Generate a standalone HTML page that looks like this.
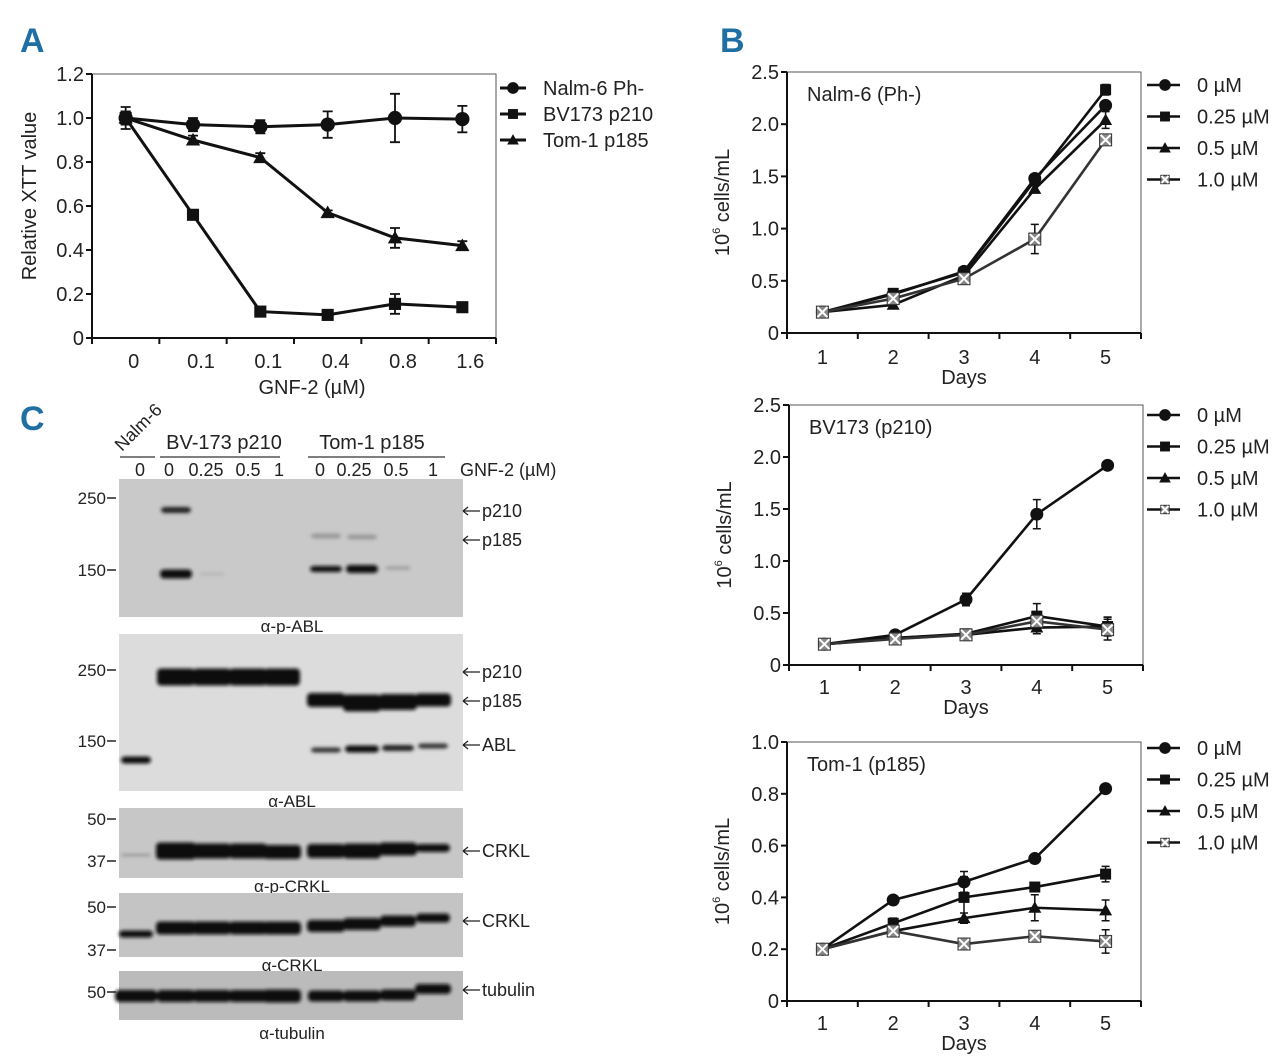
<!DOCTYPE html>
<html><head><meta charset="utf-8">
<style>
html,body{margin:0;padding:0;background:#fff;}
svg{display:block;font-family:"Liberation Sans Narrow","Liberation Sans",sans-serif;}
.t{fill:#222;}
</style></head>
<body>
<svg id="fig" width="1280" height="1064" viewBox="0 0 1280 1064" xmlns="http://www.w3.org/2000/svg">
<defs>
<filter id="blur" x="-20%" y="-50%" width="140%" height="200%"><feGaussianBlur stdDeviation="1.8"/></filter>
</defs>
<text x="20" y="52" font-size="34" font-weight="bold" fill="#1f6fa3">A</text>
<text x="720" y="52" font-size="34" font-weight="bold" fill="#1f6fa3">B</text>
<text x="20" y="430" font-size="34" font-weight="bold" fill="#1f6fa3">C</text>
<g id="root"></g>
</svg>
<script>
// ---------- Panel A data ----------
const aCats=['0','0.1','0.1','0.4','0.8','1.6'];
const aNalm=[1.0,0.97,0.96,0.97,1.0,0.995];
const aNalmErr=[0.05,0.03,0.03,0.06,0.11,0.06];
const aBV=[1.0,0.56,0.12,0.105,0.155,0.14];
const aBVErr=[0.03,0.02,0.02,0.02,0.045,0.02];
const aTom=[1.0,0.9,0.82,0.57,0.455,0.42];
const aTomErr=[0.03,0.02,0.02,0.01,0.045,0.02];
const aYTicks=[0,0.2,0.4,0.6,0.8,1.0,1.2];
const aYTickLabels=['0','0.2','0.4','0.6','0.8','1.0','1.2'];
const aLegend=['Nalm-6 Ph-','BV173 p210','Tom-1 p185'];

// ---------- Panel B data ----------
const bDays=['1','2','3','4','5'];
const bLegend=['0 \u00b5M','0.25 \u00b5M','0.5 \u00b5M','1.0 \u00b5M'];
// Nalm-6
const b1c0=[0.2,0.37,0.59,1.48,2.18];
const b1c25=[0.2,0.38,0.58,1.46,2.33];
const b1c5=[0.2,0.27,0.55,1.38,2.04];
const b1c10=[0.2,0.33,0.52,0.9,1.85];
const b1e0=[0,0.02,0.02,0.03,0.04];
const b1e25=[0,0.02,0.02,0.03,0.05];
const b1e5=[0,0.02,0.02,0.03,0.08];
const b1e10=[0,0.02,0.03,0.14,0.03];
const b1Ticks=[0,0.5,1.0,1.5,2.0,2.5];
const b1TickLabels=['0','0.5','1.0','1.5','2.0','2.5'];
// BV173
const b2c0=[0.2,0.29,0.63,1.45,1.92];
const b2c25=[0.2,0.26,0.3,0.47,0.37];
const b2c5=[0.2,0.26,0.29,0.36,0.37];
const b2c10=[0.2,0.25,0.29,0.42,0.34];
const b2e0=[0,0.02,0.06,0.14,0.04];
const b2e25=[0,0.02,0.02,0.12,0.09];
const b2e5=[0,0.02,0.02,0.06,0.09];
const b2e10=[0,0.02,0.02,0.08,0.1];
const b2Ticks=[0,0.5,1.0,1.5,2.0,2.5];
const b2TickLabels=['0','0.5','1.0','1.5','2.0','2.5'];
// Tom-1
const b3c0=[0.2,0.39,0.46,0.55,0.82];
const b3c25=[0.2,0.3,0.4,0.44,0.49];
const b3c5=[0.2,0.27,0.32,0.36,0.35];
const b3c10=[0.2,0.27,0.22,0.25,0.23];
const b3e0=[0,0.01,0.04,0.01,0.01];
const b3e25=[0,0.02,0.08,0.01,0.03];
const b3e5=[0,0.02,0.02,0.05,0.04];
const b3e10=[0,0.01,0.01,0.02,0.045];
const b3Ticks=[0,0.2,0.4,0.6,0.8,1.0];
const b3TickLabels=['0','0.2','0.4','0.6','0.8','1.0'];

const NS='http://www.w3.org/2000/svg';
const root=document.getElementById('root');
function mk(tag,attrs,parent){const e=document.createElementNS(NS,tag);for(const k in attrs)e.setAttribute(k,attrs[k]);(parent||root).appendChild(e);return e;}
function txt(x,y,s,size,anchor,parent){const e=mk('text',{x:x,y:y,'font-size':size,'text-anchor':anchor||'start',fill:'#222'},parent);e.textContent=s;return e;}

function marker(g,type,x,y,s){
  let e;
  if(type==='circle'){e=mk('circle',{cx:x,cy:y,r:6.5*s,fill:'#111'},g);}
  else if(type==='square'){e=mk('rect',{x:x-5.5*s,y:y-5.5*s,width:11*s,height:11*s,fill:'#111'},g);}
  else if(type==='tri'){e=mk('polygon',{points:`${x},${y-6.5*s} ${x+6.5*s},${y+5*s} ${x-6.5*s},${y+5*s}`,fill:'#111'},g);}
  else {e=mk('g',{},g);
    mk('rect',{x:x-6*s,y:y-6*s,width:12*s,height:12*s,fill:'#888',stroke:'#333','stroke-width':1},e);
    mk('path',{d:`M${x-5*s} ${y-5*s}L${x+5*s} ${y+5*s}M${x+5*s} ${y-5*s}L${x-5*s} ${y+5*s}`,stroke:'#fff','stroke-width':2},e);}
  return e;
}

// ---------- Panel A ----------
(function(){
  const L=92,R=496,T=74,B=338,ymax=1.2;
  const g=mk('g',{});
  
  
  const xA=i=>L+(i+0.5)*(R-L)/aCats.length;
  const yA=v=>B-v/ymax*(B-T);
  const frame=mk('rect',{x:L,y:T,width:R-L,height:B-T,fill:'none',stroke:'#555','stroke-width':1},g);
  
  
  mk('line',{x1:L,y1:T,x2:L,y2:B,stroke:'#111','stroke-width':2},g);
  mk('line',{x1:L,y1:B,x2:R,y2:B,stroke:'#111','stroke-width':2},g);
  aYTicks.forEach((v,i)=>{mk('line',{x1:L-6,y1:yA(v),x2:L,y2:yA(v),stroke:'#111','stroke-width':2},g);
    const t=txt(L-8,yA(v)+7,aYTickLabels[i],20,'end',g);
    
    });
  for(let i=0;i<=aCats.length;i++){const x=L+i*(R-L)/aCats.length;mk('line',{x1:x,y1:B,x2:x,y2:B+6,stroke:'#111','stroke-width':2},g);}
  aCats.forEach((c,i)=>{const t=txt(xA(i)+8,368,c,20,'middle',g);
    
    });
  const xt=txt(312,394,'GNF-2 (\u00b5M)',20,'middle',g);
  
  
  const yt=txt(0,0,'Relative XTT value',20,'middle',g);
  yt.setAttribute('transform','translate(36,196) rotate(-90)');
  
  
  const series=[[aNalm,aNalmErr,'circle'],[aBV,aBVErr,'square'],[aTom,aTomErr,'tri']];
  series.forEach((s,si)=>{
    const sg=mk('g',{},g);
    
    
    mk('polyline',{points:s[0].map((v,i)=>xA(i)+','+yA(v)).join(' '),fill:'none',stroke:'#111','stroke-width':3},sg);
    s[0].forEach((v,i)=>{const e=s[1][i];
      mk('path',{d:`M${xA(i)} ${yA(v+e)}V${yA(v-e)}M${xA(i)-5} ${yA(v+e)}h10M${xA(i)-5} ${yA(v-e)}h10`,stroke:'#111','stroke-width':1.8,fill:'none'},sg);
      const m=marker(sg,s[2],xA(i),yA(v),1.1);
      
      });
  });
  aLegend.forEach((l,i)=>{const y=88+i*26;const lg=mk('g',{},g);
    
    
    mk('line',{x1:500,y1:y,x2:526,y2:y,stroke:'#111','stroke-width':3},lg);
    marker(lg,['circle','square','tri'][i],513,y,0.9);
    txt(543,y+7,l,20,'start',lg);});
})();

// ---------- Panel B ----------
function growth(cfg){
  const {L,R,T,B,ymax,ticks,tickLabels,series,errs,title,name,xlY,legY}=cfg;
  const g=mk('g',{});
  
  
  const xA=i=>L+(i+0.5)*(R-L)/bDays.length;
  const yA=v=>B-v/ymax*(B-T);
  mk('rect',{x:L,y:T,width:R-L,height:B-T,fill:'none',stroke:'#555','stroke-width':1},g);
  mk('line',{x1:L,y1:T,x2:L,y2:B,stroke:'#111','stroke-width':2},g);
  mk('line',{x1:L,y1:B,x2:R,y2:B,stroke:'#111','stroke-width':2},g);
  ticks.forEach((v,i)=>{mk('line',{x1:L-6,y1:yA(v),x2:L,y2:yA(v),stroke:'#111','stroke-width':2},g);
    const t=txt(L-8,yA(v)+7,tickLabels[i],20,'end',g);
    
    });
  for(let i=0;i<=bDays.length;i++){const x=L+i*(R-L)/bDays.length;mk('line',{x1:x,y1:B,x2:x,y2:B+6,stroke:'#111','stroke-width':2},g);}
  bDays.forEach((d,i)=>{const t=txt(xA(i),xlY,d,20,'middle',g);
    
    });
  const dt=txt((L+R)/2,xlY+20,'Days',20,'middle',g);
  
  
  const yt=mk('text',{'font-size':20,'text-anchor':'middle',fill:'#222',transform:`translate(${L-58},${(T+B)/2}) rotate(-90)`},g);
  
  
  yt.innerHTML='10<tspan font-size="11" dy="-9">6</tspan><tspan dy="9"> cells/mL</tspan>';
  const an=txt(L+20,T+29,title,20,'start',g);
  
  
  const types=['circle','square','tri','x'];
  series.forEach((s,si)=>{
    const sg=mk('g',{},g);
    
    
    mk('polyline',{points:s.map((v,i)=>xA(i)+','+yA(v)).join(' '),fill:'none',stroke:si===3?'#333':'#111','stroke-width':2.6},sg);
    s.forEach((v,i)=>{const e=errs[si][i];
      if(e>0)mk('path',{d:`M${xA(i)} ${yA(v+e)}V${yA(v-e)}M${xA(i)-4} ${yA(v+e)}h8M${xA(i)-4} ${yA(v-e)}h8`,stroke:'#111','stroke-width':1.5,fill:'none'},sg);
      const m=marker(sg,types[si],xA(i),yA(v),1);
      
      });
  });
  bLegend.forEach((l,i)=>{const y=legY+i*31.5;const lg=mk('g',{},g);
    
    
    mk('line',{x1:1147,y1:y,x2:1180,y2:y,stroke:'#111','stroke-width':2.6},lg);
    marker(lg,types[i],1165,y,i<3?0.9:0.7);
    txt(1197,y+7,l,20,'start',lg);});
}
growth({L:787,R:1141,T:72,B:333,ymax:2.5,ticks:b1Ticks,tickLabels:b1TickLabels,series:[b1c0,b1c25,b1c5,b1c10],errs:[b1e0,b1e25,b1e5,b1e10],title:'Nalm-6 (Ph-)',name:'nalm6-growth-chart',xlY:364,legY:85});
growth({L:789,R:1143,T:405,B:665,ymax:2.5,ticks:b2Ticks,tickLabels:b2TickLabels,series:[b2c0,b2c25,b2c5,b2c10],errs:[b2e0,b2e25,b2e5,b2e10],title:'BV173 (p210)',name:'bv173-growth-chart',xlY:694,legY:415});
growth({L:787,R:1141,T:742,B:1001,ymax:1.0,ticks:b3Ticks,tickLabels:b3TickLabels,series:[b3c0,b3c25,b3c5,b3c10],errs:[b3e0,b3e25,b3e5,b3e10],title:'Tom-1 (p185)',name:'tom1-growth-chart',xlY:1030,legY:748});

// ---------- Panel C (western blots) ----------
(function(){
  const g=mk('g',{});
  
  
  const lanes=[136,176,212,248,282,326,362,398,433];
  const laneLabels=['0','0','0.25','0.5','1','0','0.25','0.5','1'];
  const laneLabelX=[140,169,206,248,279,320,354,396,433];
  laneLabels.forEach((l,i)=>{const t=txt(laneLabelX[i],476,l,18,'middle',g);
    
    });
  const gl=txt(460,476,'GNF-2 (\u00b5M)',18,'start',g);
  
  
  const n=txt(0,0,'Nalm-6',18,'start',g);n.setAttribute('transform','translate(122,452) rotate(-45)');
  
  
  const h1=txt(224,449,'BV-173 p210',20,'middle',g);
  
  
  const h2=txt(372,449,'Tom-1 p185',20,'middle',g);
  
  
  [[120,155],[160,280],[308,445]].forEach(s=>mk('line',{x1:s[0],y1:457,x2:s[1],y2:457,stroke:'#333','stroke-width':1.2},g));
  const blots=[
    {y:479,h:138,fill:'#c9c9c9',label:'\u03b1-p-ABL',ly:632,name:'p-abl-blot'},
    {y:634,h:157,fill:'#dcdcdc',label:'\u03b1-ABL',ly:807,name:'abl-blot'},
    {y:808,h:70,fill:'#c7c7c7',label:'\u03b1-p-CRKL',ly:892,name:'p-crkl-blot'},
    {y:893,h:64,fill:'#c4c4c4',label:'\u03b1-CRKL',ly:971,name:'crkl-blot'},
    {y:971,h:49,fill:'#bbbbbb',label:'\u03b1-tubulin',ly:1039,name:'tubulin-blot'}];
  blots.forEach(b=>{const r=mk('rect',{x:119,y:b.y,width:344,height:b.h,fill:b.fill},g);
    
    
    const t=txt(292,b.ly,b.label,17,'middle',g);
    
    });
  const bands=[
    [1,510,30,6,'#222'],[1,574,32,9,'#111'],[2,574,26,3,'#b5b5b5'],
    [5,536,30,5,'#999'],[6,537,30,5,'#9a9a9a'],[5,569,32,6,'#111'],[6,569,32,8,'#111'],[7,568,26,3,'#999'],
    [0,760,30,7,'#111'],[1,677,38,17,'#111'],[2,677,38,17,'#111'],[3,677,38,17,'#111'],[4,677,36,17,'#111'],
    [5,700,38,14,'#111'],[6,703,38,17,'#111'],[7,702,38,16,'#111'],[8,700,36,13,'#111'],
    [5,750,30,5,'#333'],[6,749,34,7,'#111'],[7,748,32,6,'#222'],[8,746,30,5,'#333'],
    [0,855,30,2,'#888'],[1,851,40,17,'#111'],[2,851,38,15,'#111'],[3,851,38,15,'#111'],[4,852,38,14,'#111'],
    [5,851,38,14,'#111'],[6,851,38,15,'#111'],[7,849,38,13,'#111'],[8,848,34,8,'#111'],
    [0,934,34,7,'#111'],[1,928,40,13,'#111'],[2,928,38,13,'#111'],[3,928,38,13,'#111'],[4,928,38,13,'#111'],
    [5,926,38,12,'#111'],[6,924,38,12,'#111'],[7,921,36,11,'#111'],[8,918,34,9,'#111'],
    [0,996,42,12,'#111'],[1,996,38,12,'#111'],[2,996,38,12,'#111'],[3,996,38,12,'#111'],[4,996,38,13,'#111'],
    [5,996,36,11,'#111'],[6,996,38,11,'#111'],[7,995,36,11,'#111'],[8,989,36,10,'#111']];
  const bg=mk('g',{filter:'url(#blur)'},g);
  
  
  bands.forEach(b=>{const r=mk('rect',{x:lanes[b[0]]-b[2]/2,y:b[1]-b[3]/2,width:b[2],height:b[3],rx:4,fill:b[4]},bg);
    
    });
  const mw=[['250',498],['150',570],['250',670],['150',741],['50',819],['37',861],['50',907],['37',950],['50',992]];
  mw.forEach(m=>{const t=txt(106,m[1]+6,m[0],17,'end',g);
    
    
    mk('line',{x1:107,y1:m[1],x2:116,y2:m[1],stroke:'#222','stroke-width':1.5},g);});
  const arrows=[['p210',511],['p185',540],['p210',672],['p185',701],['ABL',745],['CRKL',851],['CRKL',921],['tubulin',990]];
  arrows.forEach(a=>{const ag=mk('g',{},g);
    
    
    mk('path',{d:`M463 ${a[1]}H480M463 ${a[1]}l5 -4M463 ${a[1]}l5 4`,stroke:'#222','stroke-width':1.3,fill:'none'},ag);
    txt(482,a[1]+6,a[0],18,'start',ag);});
})();
</script>
</body></html>
